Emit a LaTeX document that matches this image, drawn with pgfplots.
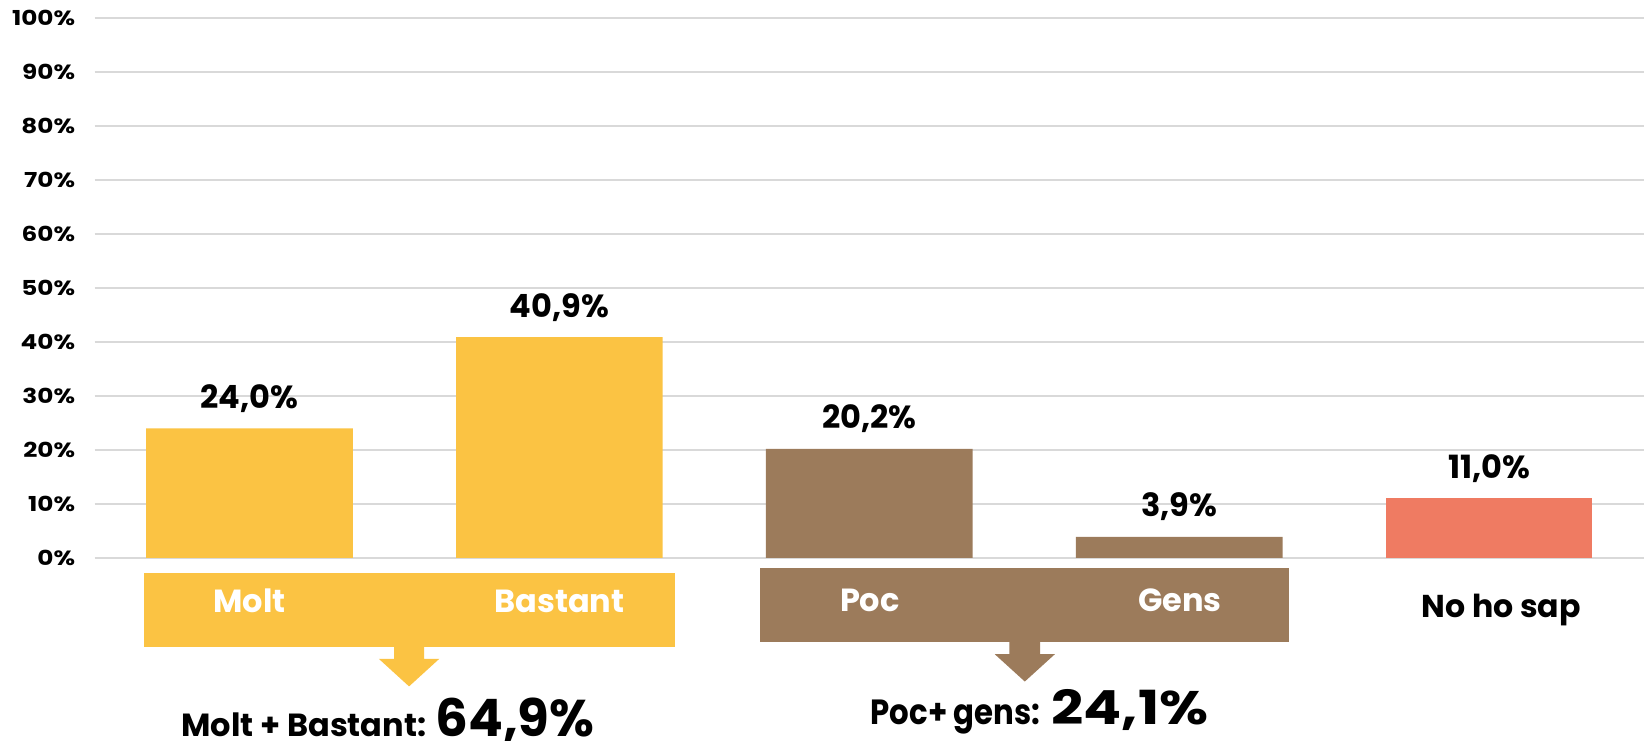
\documentclass[border=0pt]{standalone}
\usepackage{fontspec}
\setmainfont{Poppins}
\usepackage{pgfplots}
\pgfplotsset{compat=1.18}
\definecolor{cyel}{HTML}{FBC343}
\definecolor{cbrn}{HTML}{9C7B5B}
\definecolor{csal}{HTML}{EF7B62}
\definecolor{cgrid}{HTML}{D9D9D9}
\begin{document}
\begin{tikzpicture}
\begin{axis}[
  scale only axis, width=774.75pt, height=270pt,
  xmin=-0.5, xmax=4.5, ymin=0, ymax=100,
  ybar, bar width=0.667, bar shift=0pt,
  axis line style={draw=none},
  major tick length=0pt,
  xtick=\empty,
  ytick={0,10,20,30,40,50,60,70,80,90,100},
  yticklabel={\scalebox{1.2}[1]{\pgfmathprintnumber{\tick}\%}},
  yticklabel style={font=\fontsize{10.3}{12}\selectfont\bfseries, anchor=east, xshift=-6.2pt},
  ymajorgrids, grid style={cgrid, line width=0.8pt},
  /pgf/number format/assume math mode=true,
  clip=false,
  nodes near coords={\pgfmathprintnumber[fixed,fixed zerofill,precision=1,use comma]{\pgfplotspointmeta}\%},
  every node near coord/.append style={anchor=base, yshift=10pt, font=\fontsize{16}{19}\selectfont\bfseries, text=black},
]
\addplot[fill=cyel, draw=none] coordinates {(0,24.0) (1,40.9)};
\addplot[fill=cbrn, draw=none] coordinates {(2,20.2) (3,3.9)};
\addplot[fill=csal, draw=none] coordinates {(4,11.0)};

\fill[cyel] (axis cs:-0.340,-2.84) rectangle (axis cs:1.372,-16.48);
\fill[cyel] (axis cs:0.4665,-16.2) -- (axis cs:0.4665,-18.7) -- (axis cs:0.4175,-18.7) -- (axis cs:0.515,-23.8) -- (axis cs:0.6125,-18.7) -- (axis cs:0.5635,-18.7) -- (axis cs:0.5635,-16.2) -- cycle;

\fill[cbrn] (axis cs:1.648,-1.85) rectangle (axis cs:3.356,-15.56);
\fill[cbrn] (axis cs:2.4525,-15.3) -- (axis cs:2.4525,-17.84) -- (axis cs:2.405,-17.84) -- (axis cs:2.502,-22.9) -- (axis cs:2.599,-17.84) -- (axis cs:2.5515,-17.84) -- (axis cs:2.5515,-15.3) -- cycle;

\node[anchor=base, text=white, font=\fontsize{16}{19}\selectfont\bfseries] at (axis cs:0,-10.04) {Molt};
\node[anchor=base, text=white, font=\fontsize{16}{19}\selectfont\bfseries] at (axis cs:1,-10.04) {Bastant};
\node[anchor=base, text=white, font=\fontsize{16}{19}\selectfont\bfseries] at (axis cs:2.002,-9.9) {Poc};
\node[anchor=base, text=white, font=\fontsize{16}{19}\selectfont\bfseries] at (axis cs:3.003,-9.9) {Gens};
\node[anchor=base, text=black, font=\fontsize{15.8}{19}\selectfont\bfseries] at (axis cs:4.039,-11.0) {No ho sap};

\node[anchor=base west, inner sep=0pt] at (axis cs:-0.221,-33.0) {\fontsize{16}{19}\selectfont\bfseries Molt + Bastant: \fontsize{25.8}{30}\selectfont 64,9\%};
\node[anchor=base west, inner sep=0pt] at (axis cs:2.003,-30.9) {\fontsize{17.5}{19}\selectfont\bfseries\scalebox{0.88}[1]{Poc+ gens:}\hspace{5.5pt}\fontsize{23.5}{28}\selectfont\scalebox{1.2}[1]{24,1\%}};

\coordinate (BL) at (axis cs:-0.805,-33.89);
\coordinate (TR) at (axis cs:4.5097,103.31);
\end{axis}
\pgfresetboundingbox
\path[use as bounding box] (BL) rectangle (TR);
\end{tikzpicture}
\end{document}
